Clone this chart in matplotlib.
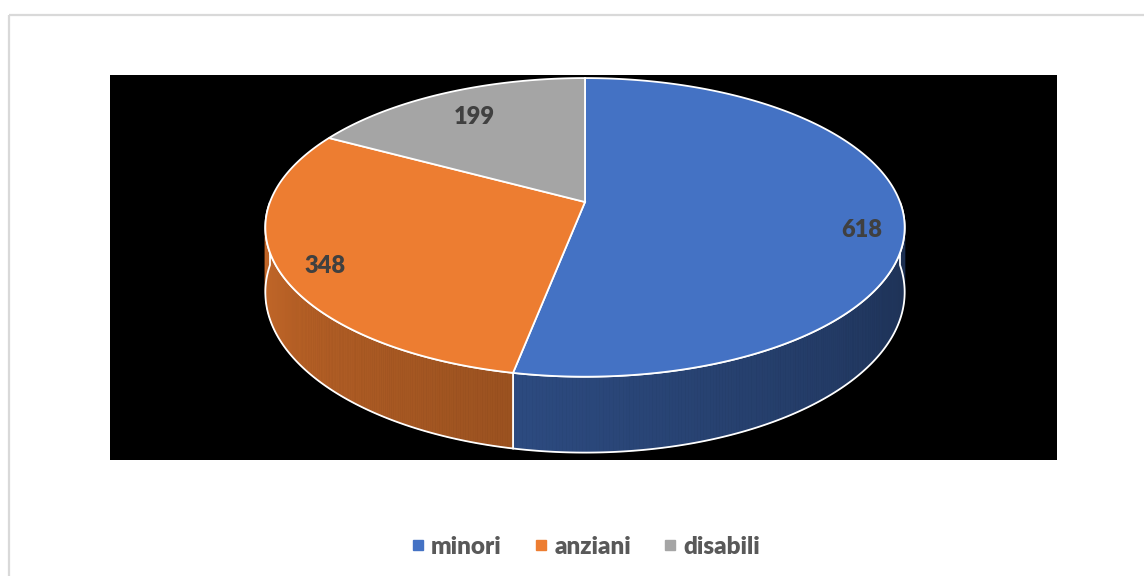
import numpy as np
import matplotlib.pyplot as plt
from matplotlib.patches import Polygon, Rectangle
from matplotlib.lines import Line2D

# dati del grafico
labels = ['minori', 'anziani', 'disabili']
values = [618, 348, 199]
colors = ['#4472C4', '#ED7D31', '#A5A5A5']

# geometria della torta 3D (pixel), con un po' di prospettiva
cx, cy = 585, 202        # centro (vertice delle fette)
A, B = 315, 145          # semiassi
k = 0.17                 # prospettiva: il bordo lontano appare più piccolo
depth = 63               # spessore del disco


def proj(t, r=1.0):
    d = 1 + k * r * np.sin(t)
    return cx + A * r * np.cos(t) / d, cy - B * r * np.sin(t) / d, depth / d


def shade(col, f):
    c = np.array(plt.matplotlib.colors.to_rgb(col))
    return tuple(np.clip(c * f, 0, 1))


fig = plt.figure(figsize=(11.44, 5.76), dpi=100)
ax = fig.add_axes([0, 0, 1, 1])
ax.set_xlim(0, 1144)
ax.set_ylim(576, 0)
ax.axis('off')

# cornice grigia e area nera del grafico
ax.add_patch(Rectangle((9, 15), 1200, 600, fill=False, ec='#d9d9d9', lw=1.6))
ax.add_patch(Rectangle((110, 75), 947, 385, fc='black', ec='none'))

total = sum(values)
edges = 90 - 360 * np.concatenate([[0], np.cumsum(values)]) / total  # gradi, senso orario

# lati del disco (solo la parte frontale, t in [-180, 0])
for i in range(len(values)):
    t0, t1 = edges[i + 1], edges[i]
    lo, hi = max(t0, -180), min(t1, 0)
    if lo >= hi:
        continue
    ts = np.radians(np.linspace(lo, hi, 200))
    xs, ys, ds = proj(ts)
    for j in range(len(ts) - 1):
        f = 0.40 - 0.0025 * np.degrees(ts[j])
        c = shade(colors[i], f)
        quad = [(xs[j], ys[j]), (xs[j + 1], ys[j + 1]),
                (xs[j + 1], ys[j + 1] + ds[j + 1]), (xs[j], ys[j] + ds[j])]
        ax.add_patch(Polygon(quad, closed=True, fc=c, ec=c, lw=0.6))
    outline = list(zip(xs, ys)) + list(zip(xs[::-1], (ys + ds)[::-1]))
    ax.add_patch(Polygon(outline, closed=True, fill=False, ec='white', lw=1.3))

# faccia superiore
for i in range(len(values)):
    ts = np.radians(np.linspace(edges[i], edges[i + 1], 300))
    xs, ys, _ = proj(ts)
    pts = [(cx, cy)] + list(zip(xs, ys))
    ax.add_patch(Polygon(pts, closed=True, fc=colors[i], ec='white', lw=1.3))

# etichette dei valori
r_lab = [0.87, 0.855, 0.76]
dy_lab = [16, 8, 0]
for i, v in enumerate(values):
    tm = np.radians((edges[i] + edges[i + 1]) / 2)
    x, y, _ = proj(tm, r_lab[i])
    ax.text(x, y + dy_lab[i], str(v), ha='center', va='center',
            fontsize=17, fontweight='heavy', family='Lato', color='#404040')

# legenda
handles = [Line2D([], [], ls='none', marker='s', markersize=6.5,
                  markerfacecolor=c, markeredgecolor=c) for c in colors]
leg = fig.legend(handles, labels, loc='center', ncol=3, frameon=False,
                 bbox_to_anchor=(584 / 1144, 1 - 547 / 576),
                 prop={'family': 'Lato', 'weight': 'heavy', 'size': 17.5},
                 handletextpad=0.15, columnspacing=1.2, handlelength=0.8)
for t in leg.get_texts():
    t.set_color('#595959')

fig.savefig('out.png', dpi=100)
